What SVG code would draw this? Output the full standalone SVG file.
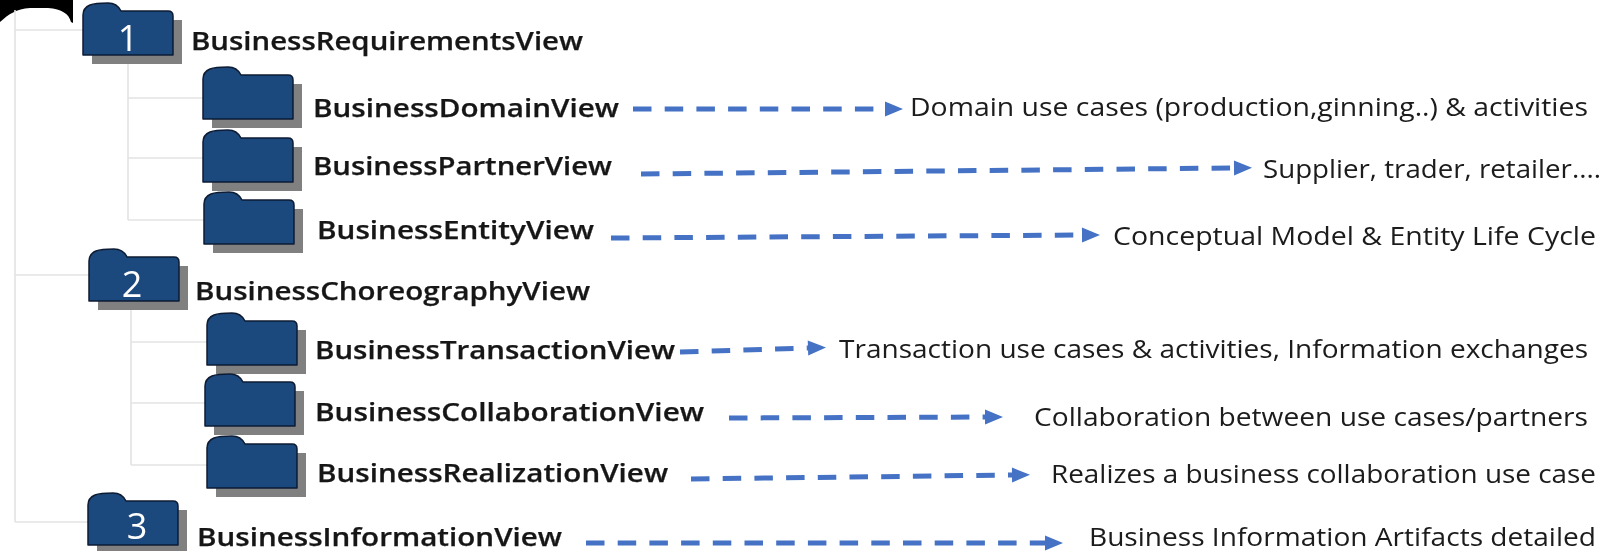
<svg xmlns="http://www.w3.org/2000/svg" width="1605" height="551" viewBox="0 0 1605 551">
<style>
.tree{fill:none;stroke:#e3e3e3;stroke-width:1.6}
.arrow{fill:none;stroke:#4472c4;stroke-width:5;stroke-dasharray:18.5 13.2}
.shadow{fill:#808080}
.body{fill:#1f497d;stroke:#0e1c33;stroke-width:1.5;stroke-linejoin:round}
.lbl{font-family:"Open Sans","Noto Sans",sans-serif;font-size:25px;font-weight:600;fill:#161616;stroke:#161616;stroke-width:.25}
.desc{font-family:"Open Sans","Noto Sans",sans-serif;font-size:25px;fill:#1a1a1a}
.num{font-family:"Open Sans","Noto Sans",sans-serif;font-size:36px;fill:#fff;text-anchor:middle}
</style>
<defs>
<marker id="head" markerUnits="userSpaceOnUse" markerWidth="20" markerHeight="18" refX="1" refY="9" orient="auto">
<path d="M1 1.5L19 9L1 16.5Z" fill="#4472c4"/>
</marker>
<filter id="soft" x="-5%" y="-5%" width="110%" height="110%"><feGaussianBlur stdDeviation="0.45"/></filter>
<g id="folder">
<path class="shadow" d="M9 17H99V61H9Z"/>
<path class="body" d="M0 12Q0 5 7 2Q12 0 25 0Q34 0 38 8H85Q90 8 90 13V52H0Z"/>
</g>
</defs>
<g filter="url(#soft)">
<path id="corner" d="M0 0H73V23L71 22C69 14 62 9 48 8H30C16 9 9 14 0 22Z" fill="#000"/>
<g id="connectors">
<path class="tree" d="M15 10V522M15 30H83M15 275H90M15 522H89"/>
<path class="tree" d="M128 55V220M128 98H203M128 158H203M128 220H204"/>
<path class="tree" d="M131 302V465M131 342H207M131 403H205M131 465H207"/>
<path class="arrow" marker-end="url(#head)" d="M633 109H885"/>
<path class="arrow" marker-end="url(#head)" d="M641 174L1234 168"/>
<path class="arrow" marker-end="url(#head)" d="M611 238L1082 235"/>
<path class="arrow" marker-end="url(#head)" d="M680 352L808 348"/>
<path class="arrow" marker-end="url(#head)" d="M729 418L985 417"/>
<path class="arrow" marker-end="url(#head)" d="M691 479L1012 475"/>
<path class="arrow" marker-end="url(#head)" d="M586 543H1045"/>
</g>
<g id="n1"><use href="#folder" x="83" y="3"/><text class="num" x="128" y="51">1</text><text class="lbl" x="191" y="50" textLength="392" lengthAdjust="spacingAndGlyphs">BusinessRequirementsView</text></g>
<g id="n1a"><use href="#folder" x="203" y="67"/><text class="lbl" x="313" y="117" textLength="306" lengthAdjust="spacingAndGlyphs">BusinessDomainView</text><text class="desc" x="910" y="116" textLength="678" lengthAdjust="spacingAndGlyphs">Domain use cases (production,ginning..) &amp; activities</text></g>
<g id="n1b"><use href="#folder" x="203" y="130"/><text class="lbl" x="313" y="175" textLength="299" lengthAdjust="spacingAndGlyphs">BusinessPartnerView</text><text class="desc" x="1263" y="178" textLength="338" lengthAdjust="spacingAndGlyphs">Supplier, trader, retailer....</text></g>
<g id="n1c"><use href="#folder" x="204" y="192"/><text class="lbl" x="317" y="239" textLength="277" lengthAdjust="spacingAndGlyphs">BusinessEntityView</text><text class="desc" x="1113" y="245" textLength="483" lengthAdjust="spacingAndGlyphs">Conceptual Model &amp; Entity Life Cycle</text></g>
<g id="n2"><use href="#folder" x="89" y="249"/><text class="num" x="132" y="297">2</text><text class="lbl" x="195" y="300" textLength="395" lengthAdjust="spacingAndGlyphs">BusinessChoreographyView</text></g>
<g id="n2a"><use href="#folder" x="207" y="313"/><text class="lbl" x="315" y="359" textLength="360" lengthAdjust="spacingAndGlyphs">BusinessTransactionView</text><text class="desc" x="839" y="358" textLength="749" lengthAdjust="spacingAndGlyphs">Transaction use cases &amp; activities, Information exchanges</text></g>
<g id="n2b"><use href="#folder" x="205" y="374"/><text class="lbl" x="315" y="421" textLength="389" lengthAdjust="spacingAndGlyphs">BusinessCollaborationView</text><text class="desc" x="1034" y="426" textLength="554" lengthAdjust="spacingAndGlyphs">Collaboration between use cases/partners</text></g>
<g id="n2c"><use href="#folder" x="207" y="436"/><text class="lbl" x="317" y="482" textLength="351" lengthAdjust="spacingAndGlyphs">BusinessRealizationView</text><text class="desc" x="1051" y="483" textLength="545" lengthAdjust="spacingAndGlyphs">Realizes a business collaboration use case</text></g>
<g id="n3"><use href="#folder" x="88" y="493"/><text class="num" x="137" y="539">3</text><text class="lbl" x="197" y="546" textLength="365" lengthAdjust="spacingAndGlyphs">BusinessInformationView</text><text class="desc" x="1089" y="546" textLength="507" lengthAdjust="spacingAndGlyphs">Business Information Artifacts detailed</text></g>
</g>
</svg>
